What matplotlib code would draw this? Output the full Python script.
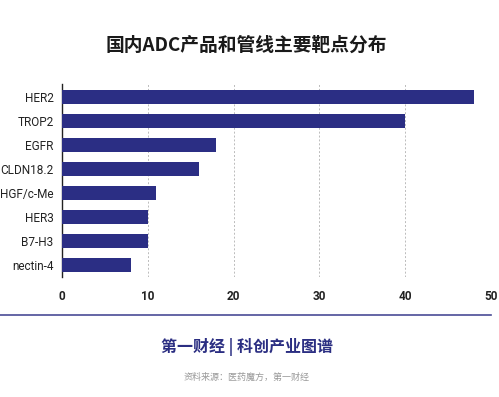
import matplotlib
matplotlib.use("Agg")
import matplotlib.pyplot as plt

plt.rcParams['font.family'] = ['Noto Sans CJK SC', 'DejaVu Sans']

targets = ["HER2", "TROP2", "EGFR", "CLDN18.2", "HGF/c-Me", "HER3", "B7-H3", "nectin-4"]
counts = [48, 40, 18, 16, 11, 10, 10, 8]
xticks = [0, 10, 20, 30, 40, 50]

bar_color = "#2b2e84"

fig = plt.figure(figsize=(4.99, 3.97), dpi=100)
ax = fig.add_axes([0.124, 0.302, 0.86, 0.486])

ax.barh(range(len(targets)), counts, height=0.58, color=bar_color, zorder=3)
ax.set_ylim(7.5, -0.54)
ax.set_xlim(0, 50)
ax.set_yticks(range(len(targets)))
ax.set_yticklabels(targets, fontsize=8.5, color="#222222", family=['Roboto', 'DejaVu Sans'])
ax.set_xticks(xticks)
ax.set_xticklabels([str(t) for t in xticks], fontsize=8.5, fontweight="bold",
                   color="#222222", family=['Roboto', 'DejaVu Sans'])
ax.tick_params(axis="both", length=0, pad=6)
ax.tick_params(axis="x", pad=9)
ax.grid(axis="x", linestyle=(0, (2, 2)), color="#bbbbbb", linewidth=0.7, zorder=0)
for s in ["top", "right", "bottom"]:
    ax.spines[s].set_visible(False)
ax.spines["left"].set_color("#222222")
ax.spines["left"].set_linewidth(1.0)

fig.text(0.494, 0.887, "国内ADC产品和管线主要靶点分布", ha="center", va="center",
         fontsize=13.5, fontweight="bold", color="#1a1a1a")

# separator line under the chart
fig.add_artist(plt.Line2D([0.0, 0.984], [1 - 314.5 / 397, 1 - 314.5 / 397],
                          color="#4a4c96", linewidth=1.2))

fig.text(0.494, 1 - 347 / 397, "第一财经 | 科创产业图谱", ha="center", va="center",
         fontsize=11.5, fontweight="bold", color="#2b2e82")
fig.text(0.494, 1 - 377 / 397, "资料来源：医药魔方，第一财经", ha="center", va="center",
         fontsize=6.5, color="#999999")

fig.savefig("out.png", dpi=100)
